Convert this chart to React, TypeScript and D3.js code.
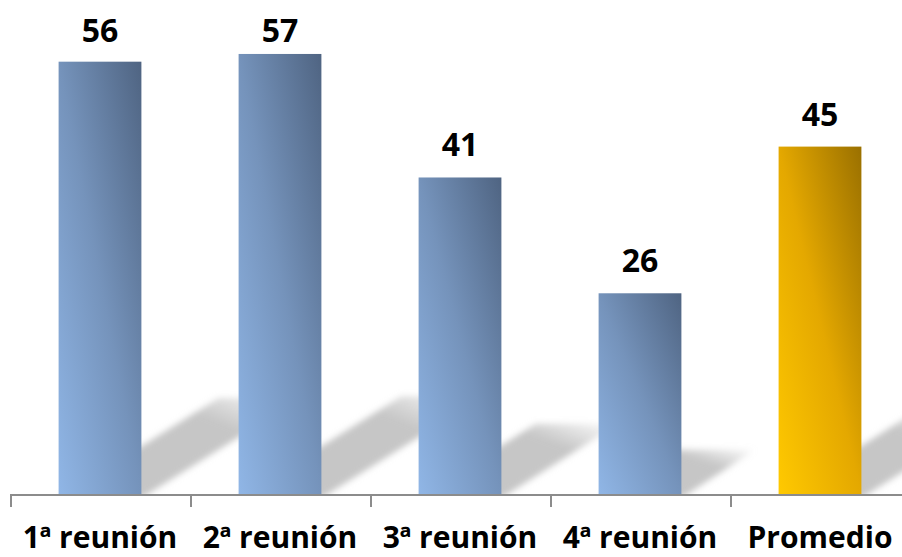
import React from "react";
import * as d3 from "d3";

const categories = ["1ª reunión", "2ª reunión", "3ª reunión", "4ª reunión", "Promedio"];
const values = [56, 57, 41, 26, 45];
const highlight = [false, false, false, false, true];

const W = 902;
const H = 557;
const BASE = 494;

export default function App() {
  const x = d3.scaleBand<string>().domain(categories).range([10, 910]).paddingInner(0.54).paddingOuter(0.27);
  const y = d3.scaleLinear().domain([0, 60]).range([BASE, BASE - 60 * 7.72]);
  const step = x.step();
  const bw = x.bandwidth();
  const font = "'Open Sans', 'Liberation Sans', sans-serif";
  const ticks = categories.map((c) => (x(c) as number) - step * 0.27);

  return (
    <svg width={W} height={H} style={{ position: "absolute", left: 0, top: 0, background: "#fff" }}>
      <defs>
        <linearGradient id="gBlue" x1="0" y1="1" x2="1" y2="0">
          <stop offset="0" stopColor="#90b6e6" />
          <stop offset="0.5" stopColor="#7593bb" />
          <stop offset="1" stopColor="#4f6482" />
        </linearGradient>
        <linearGradient id="gGold" x1="0" y1="1" x2="1" y2="0">
          <stop offset="0" stopColor="#ffc900" />
          <stop offset="0.5" stopColor="#e4a800" />
          <stop offset="1" stopColor="#9a7000" />
        </linearGradient>
        <linearGradient id="gShadow" x1="0" y1="1" x2="1" y2="0">
          <stop offset="0" stopColor="#c6c6c6" stopOpacity="1" />
          <stop offset="0.7" stopColor="#c6c6c6" stopOpacity="1" />
          <stop offset="1" stopColor="#c6c6c6" stopOpacity="0" />
        </linearGradient>
        <filter id="blur" x="-20%" y="-20%" width="140%" height="140%">
          <feGaussianBlur stdDeviation="3" />
        </filter>
        <clipPath id="plotClip">
          <rect x={0} y={0} width={W} height={BASE} />
        </clipPath>
      </defs>

      <g clipPath="url(#plotClip)">
        {categories.map((c, i) => {
          const x0 = x(c) as number;
          const x1 = x0 + bw;
          const h = BASE - y(values[i]);
          const L = 0.37 * h;
          const dy = 0.6 * L;
          const p = d3.path();
          p.moveTo(x0, BASE + 4);
          p.lineTo(x1, BASE + 4);
          p.lineTo(x1 + L, BASE - dy);
          p.lineTo(x0 + L, BASE - dy);
          p.closePath();
          return <path key={"s" + c} d={p.toString()} fill="url(#gShadow)" filter="url(#blur)" />;
        })}
      </g>

      {categories.map((c, i) => (
        <rect
          key={"b" + c}
          x={x(c)}
          y={y(values[i])}
          width={bw}
          height={BASE - y(values[i])}
          fill={highlight[i] ? "url(#gGold)" : "url(#gBlue)"}
        />
      ))}

      <line x1={10} x2={W} y1={BASE + 1} y2={BASE + 1} stroke="#8c8c8c" strokeWidth={2} />
      {ticks.map((t, i) => (
        <line key={"t" + i} x1={t + 1} x2={t + 1} y1={BASE} y2={BASE + 13} stroke="#8c8c8c" strokeWidth={2} />
      ))}

      {categories.map((c, i) => (
        <text
          key={"v" + c}
          x={(x(c) as number) + bw / 2}
          y={Math.max(y(values[i]) - 21, 42)}
          textAnchor="middle"
          fontFamily={font}
          fontWeight="bold"
          fontSize={32}
          fill="#000"
        >
          {values[i]}
        </text>
      ))}

      {categories.map((c) => (
        <text
          key={"l" + c}
          x={(x(c) as number) + bw / 2}
          y={548}
          textAnchor="middle"
          fontFamily={font}
          fontWeight="bold"
          fontSize={30}
          fill="#000"
        >
          {c}
        </text>
      ))}
    </svg>
  );
}
